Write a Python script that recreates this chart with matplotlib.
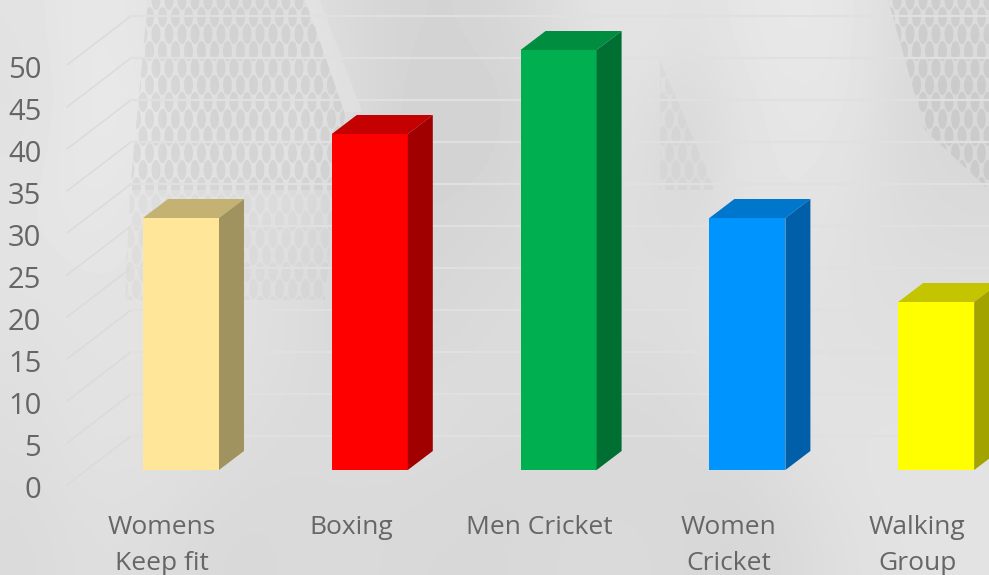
import numpy as np
import matplotlib
matplotlib.use('Agg')
from matplotlib import pyplot as plt
from matplotlib.patches import Polygon
from matplotlib.collections import EllipseCollection

plt.rcParams['font.family'] = ['Open Sans', 'DejaVu Sans']

categories = ['Womens\nKeep fit', 'Boxing', 'Men Cricket', 'Women\nCricket', 'Walking\nGroup']
values = [30, 40, 50, 30, 20]
y_ticks = [0, 5, 10, 15, 20, 25, 30, 35, 40, 45, 50]

front_colors = ['#FFE699', '#FF0000', '#00B050', '#0094FF', '#FFFF00']
top_colors = ['#C4B273', '#C40000', '#008D40', '#0076CC', '#C4C400']
side_colors = ['#A1935F', '#A00000', '#006F32', '#005FA8', '#A3A300']

W, H = 989, 575
fig = plt.figure(figsize=(W / 100, H / 100), dpi=100)

# achtergrond (sluier), hele figuur in pixels
bg = fig.add_axes([0, 0, 1, 1], zorder=0)
bg.set_xlim(0, W)
bg.set_ylim(H, 0)
bg.axis('off')

# grijswaarden van de sluier, grof geschat: rij = y, kolom = x
veil = np.array([
    [226, 232, 230, 222, 220, 224, 216, 212, 212, 216, 224, 230, 224, 230, 232, 230, 218, 220],
    [224, 232, 232, 224, 222, 226, 218, 210, 210, 212, 222, 226, 216, 228, 230, 230, 216, 216],
    [226, 232, 230, 226, 224, 228, 216, 210, 210, 214, 222, 224, 214, 226, 230, 226, 218, 216],
    [228, 230, 228, 226, 224, 224, 214, 212, 214, 216, 220, 222, 218, 226, 228, 224, 220, 218],
    [226, 228, 228, 226, 224, 220, 214, 214, 216, 218, 220, 222, 222, 226, 226, 224, 222, 222],
    [224, 226, 226, 226, 224, 220, 216, 216, 218, 220, 220, 220, 220, 228, 226, 224, 224, 224],
    [222, 226, 226, 224, 222, 218, 220, 222, 220, 218, 216, 216, 218, 222, 226, 226, 226, 226],
    [220, 224, 224, 222, 218, 218, 218, 218, 216, 216, 216, 216, 216, 216, 222, 226, 228, 228],
    [218, 222, 222, 218, 216, 218, 218, 216, 216, 216, 218, 218, 216, 214, 218, 224, 226, 228],
], dtype=float)
bg.imshow(veil, cmap='gray', vmin=0, vmax=255, extent=(0, W, H, 0), aspect='auto',
          interpolation='bicubic', zorder=0)

# lichte baan naast het gaas
light_bands = [
    [(305, 0), (320, 0), (362, 112), (345, 112)],
]
for band in light_bands:
    bg.add_patch(Polygon(band, closed=True, facecolor='white', alpha=0.14, linewidth=0, zorder=1))

# gaasje in de donkere stukken: ovale mazen, naar onder toe zwakker
mesh_areas = [
    [(148, 0), (306, 0), (345, 115), (335, 190), (130, 190)],
    [(130, 190), (335, 190), (325, 300), (125, 300)],
    [(888, 0), (989, 0), (989, 190), (925, 130)],
    [(660, 60), (715, 190), (660, 190)],
]
mesh_alpha = [0.09, 0.045, 0.10, 0.04]
for area, a in zip(mesh_areas, mesh_alpha):
    cols, rows = np.meshgrid(np.arange(0, W + 13, 13), np.arange(0, H + 34, 17))
    mx = cols.ravel() + 6.5 * (rows.ravel() // 17 % 2)
    my = rows.ravel()
    mesh = EllipseCollection(np.full(mx.size, 9), np.full(mx.size, 20), np.zeros(mx.size),
                             units='xy', offsets=np.column_stack([mx, my]),
                             offset_transform=bg.transData, transform=bg.transData,
                             facecolor=(0.35, 0.35, 0.35, a), edgecolor='none', zorder=1)
    bg.add_collection(mesh)
    mesh.set_clip_path(Polygon(area, closed=True, transform=bg.transData))

# grafiek: de assen lopen van de voorkant van de zijwand tot de rechterrand
left_px, bottom_px = 67, 490
ax = fig.add_axes([left_px / W, (H - bottom_px) / H, (W - left_px) / W, bottom_px / H], zorder=1)
ax.patch.set_alpha(0)

px_per_unit = 8.4
base_px = 470
center0, step = 181, 188.8
bar_width = 76 / step
xlim = ((left_px - center0) / step, (W - center0) / step)
ylim = ((base_px - bottom_px) / px_per_unit, base_px / px_per_unit)
ax.set_xlim(xlim)
ax.set_ylim(ylim)

depth_x, depth_y = 25 / step, 19 / px_per_unit
wall_front = -15 / px_per_unit
wall_back = 34 / px_per_unit
wall_dx = 64 / step

for v in y_ticks:
    ax.plot([xlim[0], xlim[0] + wall_dx], [v + wall_front, v + wall_back],
            color='#DADADA', lw=1.0, clip_on=False, zorder=1)
    ax.plot([xlim[0] + wall_dx, xlim[1]], [v + wall_back, v + wall_back],
            color='#E0E0E0', lw=1.6, clip_on=False, zorder=1)

x = np.arange(len(categories))
for i in x:
    x0 = i - bar_width / 2
    x1 = i + bar_width / 2
    v = values[i]
    ax.bar(i, v, width=bar_width, color=front_colors[i], linewidth=0, zorder=3)
    ax.add_patch(Polygon([(x0, v), (x1, v), (x1 + depth_x, v + depth_y), (x0 + depth_x, v + depth_y)],
                         closed=True, facecolor=top_colors[i], linewidth=0, zorder=3))
    ax.add_patch(Polygon([(x1, 0), (x1 + depth_x, depth_y), (x1 + depth_x, v + depth_y), (x1, v)],
                         closed=True, facecolor=side_colors[i], linewidth=0, zorder=3))

for s in ax.spines.values():
    s.set_visible(False)

# aslabels staan bij de voorkant van de wand
ax.set_yticks([v - 16.5 / px_per_unit for v in y_ticks])
ax.set_yticklabels([str(v) for v in y_ticks], fontsize=21, color='#666666')
ax.tick_params(axis='y', length=0, pad=18.5)

# categorie-labels staan iets links van de balken
ax.set_xticks(x - 19 / step)
ax.set_xticklabels(categories, fontsize=19, color='#666666', linespacing=1.6)
ax.tick_params(axis='x', length=0, pad=18)

# set_yticks rekt de limieten op, dus terugzetten
ax.set_xlim(xlim)
ax.set_ylim(ylim)

plt.savefig('out.png', dpi=100)
